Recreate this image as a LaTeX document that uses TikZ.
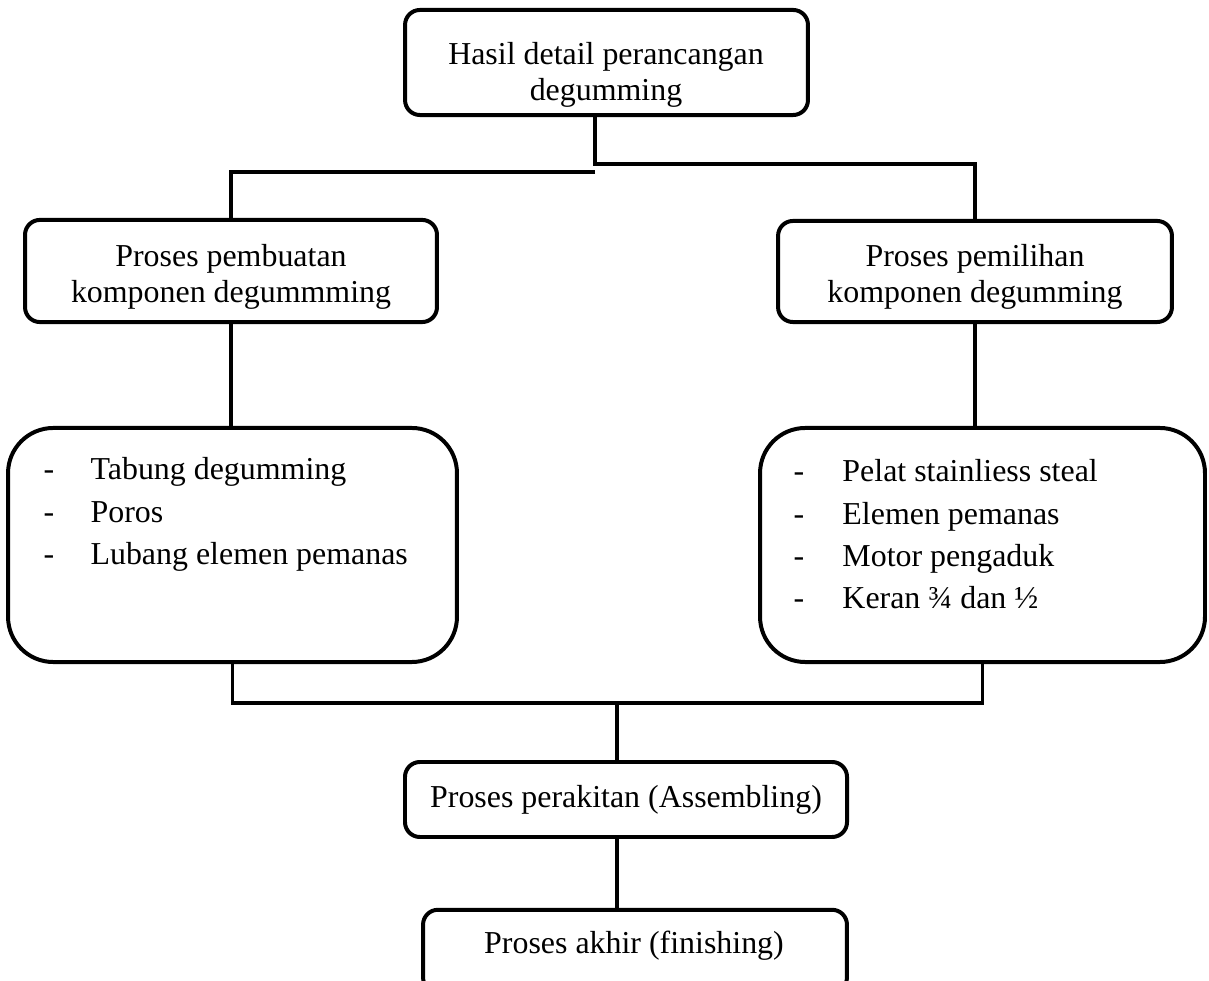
\documentclass[tikz,border=0pt]{standalone}
\usepackage{fontspec}
\setmainfont{Liberation Serif}

\begin{document}
\begin{tikzpicture}[x=0.376pt, y=-0.376pt,
  box/.style={draw, line width=1.5pt, rounded corners=5.6pt, inner sep=0pt},
  bigbox/.style={draw, line width=1.5pt, rounded corners=17pt, inner sep=0pt},
  txt/.style={inner sep=0pt, font=\fontsize{12}{13.5}\selectfont},
  listtxt/.style={inner sep=0pt, font=\fontsize{12}{15.8}\selectfont},
  link/.style={line width=1.3pt}]

\useasboundingbox (0,0) rectangle (1209,981);

% kotak
\node [box, minimum width=151.5pt, minimum height=39.5pt] (hasil) at (606.5,62.5) {};
\node [box, minimum width=154.9pt, minimum height=38.4pt] (pembuatan) at (231,271) {};
\node [box, minimum width=148.1pt, minimum height=38pt] (pemilihan) at (975,271.5) {};
\node [bigbox, minimum width=168.8pt, minimum height=88pt] (daftarbuat) at (232.5,545) {};
\node [bigbox, minimum width=167.3pt, minimum height=88pt] (daftarpilih) at (982.5,545) {};
\node [box, font=\fontsize{12}{14}\selectfont, minimum width=166.2pt, minimum height=28.2pt] (perakitan) at (626,799.5) {Proses perakitan (Assembling)};
\node [box, minimum width=159.4pt, minimum height=31pt] (akhir) at (635,951) {};

% teks
\node [txt, anchor=base] (hasiltxt) at (606,65) {\begin{tabular}[t]{@{}c@{}}Hasil detail perancangan\\degumming\end{tabular}};
\node [txt, anchor=base] (pembuatantxt) at (231,267) {\begin{tabular}[t]{@{}c@{}}Proses pembuatan\\komponen degummming\end{tabular}};
\node [txt, anchor=base] (pemilihantxt) at (975,267) {\begin{tabular}[t]{@{}c@{}}Proses pemilihan\\komponen degumming\end{tabular}};
\node [listtxt, anchor=base west] (buattxt) at (43,480) {\begin{tabular}[t]{@{}p{17.7pt}@{}l@{}}-&Tabung degumming\\-&Poros\\-&Lubang elemen pemanas\end{tabular}};
\node [listtxt, anchor=base west] (pilihtxt) at (793,482) {\begin{tabular}[t]{@{}p{18.4pt}@{}l@{}}-&Pelat stainliess steal\\-&Elemen pemanas\\-&Motor pengaduk\\-&Keran ¾ dan ½\end{tabular}};
\node [txt, anchor=base] (akhirtxt) at (634,953) {Proses akhir (finishing)};

% garis
\coordinate (split) at (595,164);
\coordinate (lsplit) at (595,172);
\coordinate (join) at (617,703);

\draw [link] (split |- hasil.south) -- (split) -| (pemilihan.north);
\draw [link] (lsplit) -| (pembuatan.north);
\draw [link] (pembuatan.south) -- (pembuatan.south |- daftarbuat.north);
\draw [link] (pemilihan.south) -- (pemilihan.south |- daftarpilih.north);
\draw [link] (daftarbuat.south) |- (join) -| (daftarpilih.south);
\draw [link] (join) -- (perakitan.north -| join);
\draw [link] (perakitan.south -| join) -- (akhir.north -| join);
\end{tikzpicture}
\end{document}
